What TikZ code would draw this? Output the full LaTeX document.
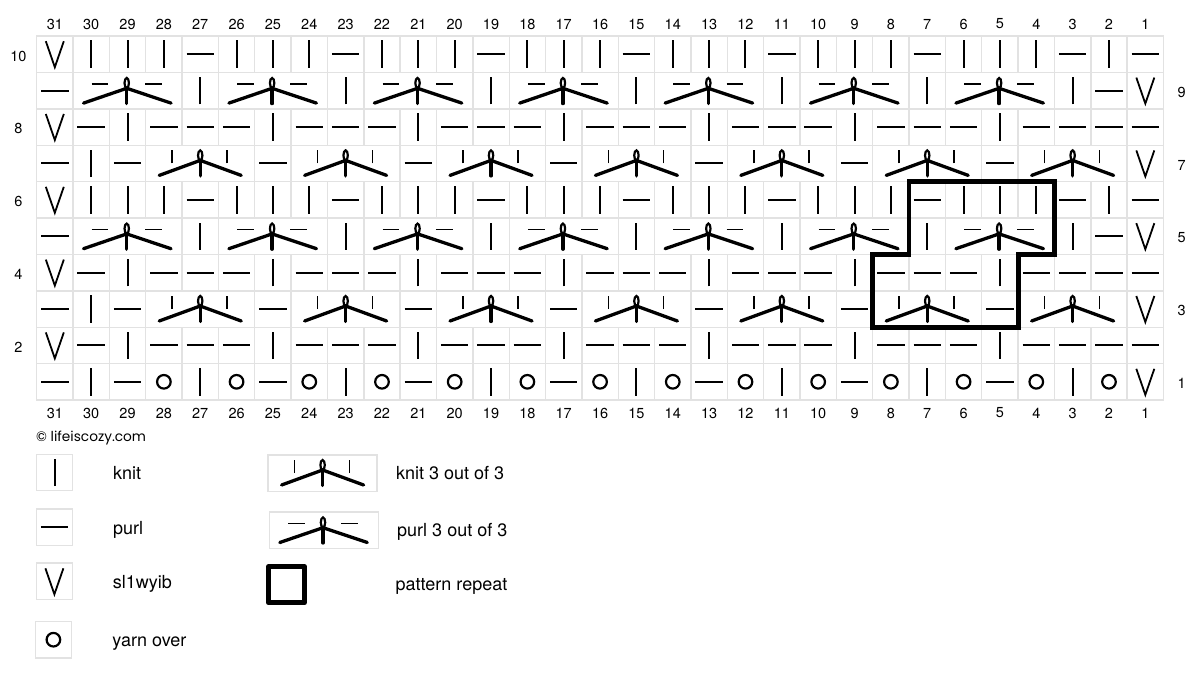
\documentclass[tikz,border=0pt]{standalone}
\usepackage{fontspec}
\setmainfont{TeX Gyre Heros}
\newfontfamily\sitefont{Poppins}
\usetikzlibrary{positioning}

\definecolor{gridgray}{HTML}{E2E2E2}

\tikzset{
  cellbox/.style={draw=gridgray, line width=1.4pt, minimum width=36.35pt, minimum height=36.4pt, inner sep=0pt},
  widebox/.style={cellbox, minimum width=109.05pt},
  thinst/.style={line width=2pt, black},
  smallst/.style={line width=1.6pt, black},
  fatst/.style={line width=3.3pt, black, line cap=round},
  numlabel/.style={font=\fontsize{14.5}{16}\selectfont, inner sep=0pt},
  legendtext/.style={font=\fontsize{18}{20}\selectfont, inner sep=0pt, text height=14pt, text depth=0pt},
  legendside/.style={legendtext, text height=12pt},
  repeatline/.style={line width=4.8pt, black},
  pics/knitst/.style={code={
    \node[cellbox] (-box) {};
    \draw[thinst] (0pt,-13.7pt) -- (0pt,13.7pt);
  }},
  pics/purlst/.style={code={
    \node[cellbox] (-box) {};
    \draw[thinst] (-13.7pt,0pt) -- (13.7pt,0pt);
  }},
  pics/slipst/.style={code={
    \node[cellbox] (-box) {};
    \draw[line width=1.8pt, black] (-9pt,13pt) -- (0pt,-13pt) -- (9pt,13pt);
  }},
  pics/yarnst/.style={code={
    \node[cellbox] (-box) {};
    \draw[line width=2.2pt, black] (0pt,0pt) circle (6.8pt);
  }},
  pics/knitthree/.style={code={
    \node[widebox] (-box) {};
    \draw[smallst] (-28pt,0pt) -- (-28pt,13pt);
    \draw[smallst] (27pt,0pt) -- (27pt,13pt);
    \draw[line width=2.2pt, black] (0pt,8pt) ellipse (2.2pt and 5pt);
    \draw[fatst] (-41pt,-12pt) -- (0pt,3pt) -- (41pt,-12pt);
    \draw[fatst] (0pt,3pt) -- (0pt,-12.5pt);
  }},
  pics/purlthree/.style={code={
    \node[widebox] (-box) {};
    \draw[smallst] (-35.8pt,6.6pt) -- (-19.2pt,6.6pt);
    \draw[smallst] (17.5pt,6.6pt) -- (34.2pt,6.6pt);
    \draw[line width=2.2pt, black] (-0.8pt,7.6pt) ellipse (2.2pt and 5pt);
    \draw[fatst] (-44pt,-12.5pt) -- (-0.8pt,2.3pt) -- (43.5pt,-12.5pt);
    \draw[fatst] (-0.8pt,2.3pt) -- (-0.8pt,-13pt);
  }}
}

\begin{document}
\begin{tikzpicture}[x=1pt, y=-1pt]
  \useasboundingbox (0,0) rectangle (1200,685);

  \begin{scope}[shift={(1181.675,418.2)}, x=-36.35pt, y=36.4pt]
    \foreach \r in {10,6} {
      \pic (s31-\r) at (31,\r) {slipst};
      \foreach \c in {30,29,28,26,25,24,22,21,20,18,17,16,14,13,12,10,9,8,6,5,4,2}
        \pic (s\c-\r) at (\c,\r) {knitst};
      \foreach \c in {27,23,...,3,1}
        \pic (s\c-\r) at (\c,\r) {purlst};
    }
    \foreach \r in {9,5} {
      \pic (s31-\r) at (31,\r) {purlst};
      \pic (s2-\r) at (2,\r) {purlst};
      \pic (s1-\r) at (1,\r) {slipst};
      \foreach \c in {27,23,...,3}
        \pic (s\c-\r) at (\c,\r) {knitst};
      \foreach \c in {29,25,...,5}
        \pic (s\c-\r) at (\c,\r) {purlthree};
    }
    \foreach \r in {8,4,2} {
      \pic (s31-\r) at (31,\r) {slipst};
      \foreach \c in {29,25,...,5}
        \pic (s\c-\r) at (\c,\r) {knitst};
      \foreach \c in {30,28,27,26,24,23,22,20,19,18,16,15,14,12,11,10,8,7,6,4,3,2,1}
        \pic (s\c-\r) at (\c,\r) {purlst};
    }
    \foreach \r in {7,3} {
      \pic (s30-\r) at (30,\r) {knitst};
      \pic (s1-\r) at (1,\r) {slipst};
      \foreach \c in {31,29,25,21,17,13,9,5}
        \pic (s\c-\r) at (\c,\r) {purlst};
      \foreach \c in {27,23,...,3}
        \pic (s\c-\r) at (\c,\r) {knitthree};
    }
    \pic (s1-1) at (1,1) {slipst};
    \foreach \c in {31,29,25,21,17,13,9,5}
      \pic (s\c-1) at (\c,1) {purlst};
    \foreach \c in {30,27,23,19,15,11,7,3}
      \pic (s\c-1) at (\c,1) {knitst};
    \foreach \c in {28,26,...,2}
      \pic (s\c-1) at (\c,1) {yarnst};

    \foreach \c in {1,...,31} {
      \node[numlabel] (top\c) at (\c,10.83) {\c};
      \node[numlabel] (bot\c) at (\c,0.143) {\c};
    }
    \foreach \r in {2,4,...,10}
      \node[numlabel] (left\r) at (32,\r-0.05) {\r};
    \foreach \r in {1,3,...,9}
      \node[numlabel] (right\r) at (0,\r-0.05) {\r};

    \coordinate (rep1) at (7.5,6.5);
    \coordinate (rep2) at (3.5,6.5);
    \coordinate (rep3) at (3.5,4.5);
    \coordinate (rep4) at (4.5,4.5);
    \coordinate (rep5) at (4.5,2.5);
    \coordinate (rep6) at (8.5,2.5);
    \coordinate (rep7) at (8.5,4.5);
    \coordinate (rep8) at (7.5,4.5);
    \draw[repeatline] (rep1) -- (rep2) -- (rep3) -- (rep4) -- (rep5) -- (rep6) -- (rep7) -- (rep8) -- cycle;
  \end{scope}

  \node[anchor=west, inner sep=0pt, font=\sitefont\fontsize{13.7}{15}\selectfont] (site) at (36,438) {© lifeiscozy.com};

  \pic (lknit) at (54.6,472.5) {knitst};
  \pic (lpurl) at (54.6,527) {purlst};
  \pic (lslip) at (54.4,581.3) {slipst};
  \pic (lyarn) at (53.4,639.7) {yarnst};
  \pic (lkthree) at (322.6,473) {knitthree};
  \pic (lpthree) at (323.8,530) {purlthree};
  \node[draw, line width=5pt, line join=round, minimum size=36pt, inner sep=0pt, outer sep=0pt] (lrepeat) at (286.5,584.7) {};

  \node[legendtext, right=39.5pt of lknit-box] (tknit) {knit};
  \node[legendtext, right=39.5pt of lpurl-box] (tpurl) {purl};
  \node[legendtext, right=39.5pt of lslip-box] (tslip) {sl1wyib};
  \node[legendtext, right=40pt of lyarn-box] (tyarn) {yarn over};
  \node[legendside, right=18pt of lkthree-box] (tkthree) {knit 3 out of 3};
  \node[legendside, right=18pt of lpthree-box] (tpthree) {purl 3 out of 3};
  \node[legendside, right=91pt of lrepeat] (trepeat) {pattern repeat};
\end{tikzpicture}
\end{document}
